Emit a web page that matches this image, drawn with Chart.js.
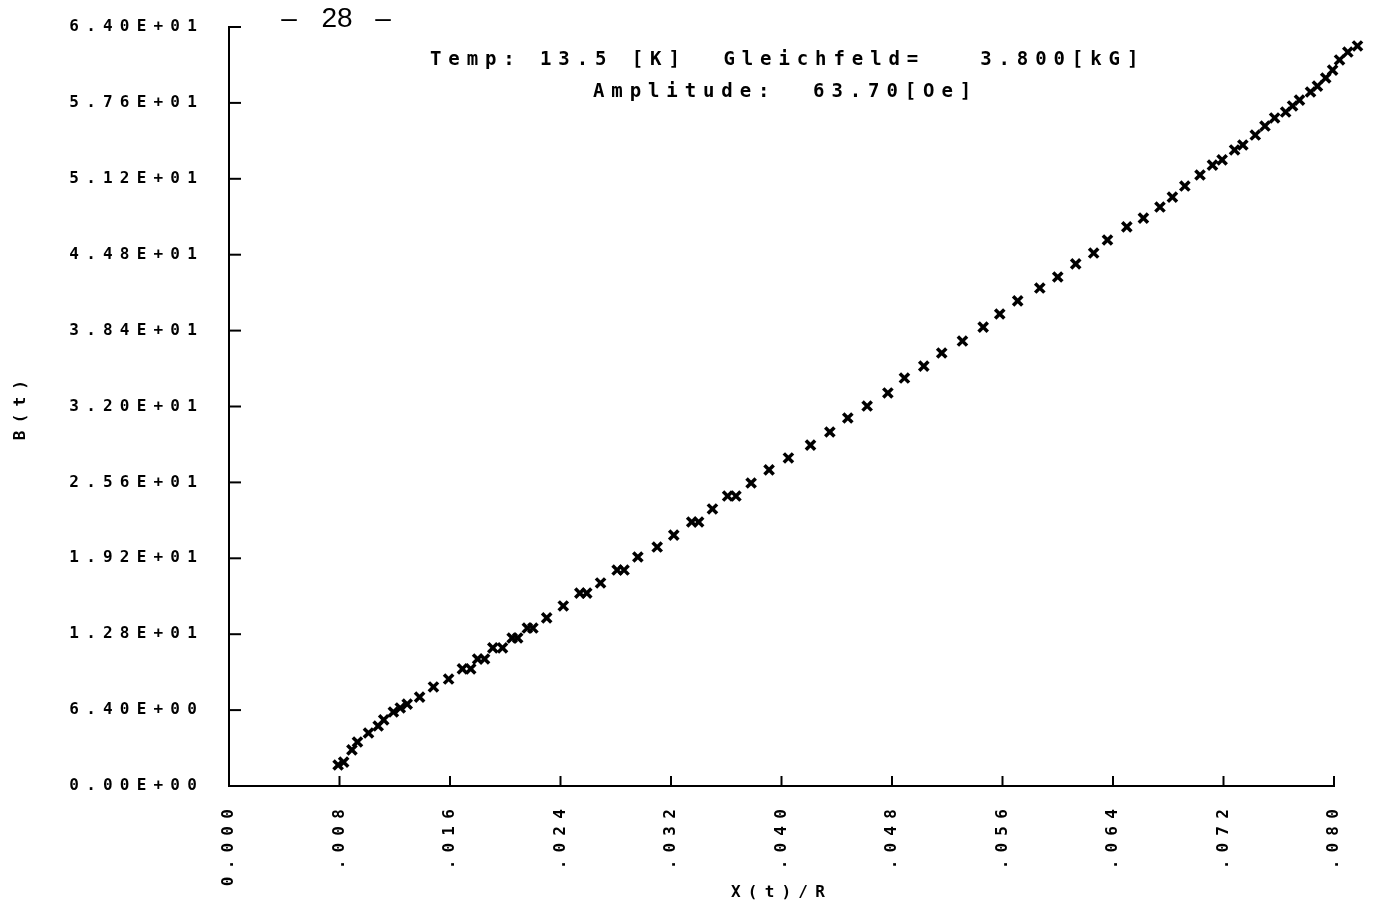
<!DOCTYPE html>
<html>
<head>
<meta charset="utf-8">
<script src="https://cdn.jsdelivr.net/npm/chart.js@4.4.1/dist/chart.umd.min.js"></script>
<style>
  html, body { margin: 0; padding: 0; background: #fff; }
  #wrap { width: 1380px; height: 910px; }
</style>
</head>
<body>
<div id="wrap"><canvas id="plot" width="1380" height="910"></canvas></div>
<script>
// X(t)/R and B(t) samples over one field cycle
const xPos = [
  0.0079, 0.0083, 0.0089, 0.0093, 0.0101, 0.0108, 0.0112, 0.0119, 0.0124, 0.0129,
  0.0138, 0.0148, 0.0159, 0.0169, 0.0175, 0.0180, 0.0185, 0.0191, 0.0198, 0.0205,
  0.0209, 0.0216, 0.0220, 0.0230, 0.0242, 0.0254, 0.0259, 0.0269, 0.0281, 0.0286,
  0.0296, 0.0310, 0.0322, 0.0335, 0.0340, 0.0350, 0.0361, 0.0367, 0.0378, 0.0391,
  0.0405, 0.0421, 0.0435, 0.0448, 0.0462, 0.0477, 0.0489, 0.0503, 0.0516, 0.0531,
  0.0546, 0.0558, 0.0571, 0.0587, 0.0600, 0.0613, 0.0626, 0.0636, 0.0650, 0.0662,
  0.0674, 0.0683, 0.0692, 0.0703, 0.0712, 0.0719, 0.0728, 0.0734, 0.0743, 0.0750,
  0.0757, 0.0765, 0.0770, 0.0775, 0.0783, 0.0788, 0.0794, 0.0799, 0.0804, 0.0810,
  0.0817
];
const bField = [
  1.77, 2.02, 3.04, 3.71, 4.47, 5.06, 5.57, 6.24, 6.58, 6.91,
  7.50, 8.35, 9.02, 9.87, 9.87, 10.71, 10.71, 11.64, 11.64, 12.48,
  12.48, 13.32, 13.32, 14.17, 15.18, 16.27, 16.27, 17.12, 18.21, 18.21,
  19.31, 20.15, 21.16, 22.26, 22.26, 23.36, 24.45, 24.45, 25.55, 26.65,
  27.66, 28.75, 29.85, 31.03, 32.04, 33.14, 34.40, 35.41, 36.51, 37.52,
  38.70, 39.80, 40.90, 41.99, 42.92, 44.02, 44.94, 46.04, 47.14, 47.89,
  48.82, 49.66, 50.59, 51.52, 52.36, 52.79, 53.63, 54.05, 54.89, 55.65,
  56.33, 56.83, 57.34, 57.84, 58.52, 59.02, 59.70, 60.37, 61.22, 61.89,
  62.40
];

const xTickValues = [0, 0.008, 0.016, 0.024, 0.032, 0.040, 0.048, 0.056, 0.064, 0.072, 0.080];
const xTickLabels = ["0.000", ".008", ".016", ".024", ".032", ".040", ".048", ".056", ".064", ".072", ".080"];
const yTickValues = [0, 6.4, 12.8, 19.2, 25.6, 32, 38.4, 44.8, 51.2, 57.6, 64];
const yTickLabels = ["0.00E+00", "6.40E+00", "1.28E+01", "1.92E+01", "2.56E+01", "3.20E+01",
                     "3.84E+01", "4.48E+01", "5.12E+01", "5.76E+01", "6.40E+01"];

const headerLines = ["Temp: 13.5 [K]  Gleichfeld=   3.800[kG]", "Amplitude:  63.70[Oe]"];
const pageNumber = "28";

const MONO = "'DejaVu Sans Mono', monospace";
Chart.defaults.font.family = MONO;
Chart.defaults.color = "#000";

const axisFont = { size: 16, weight: "bold" };

// plotter look: wide letter pitch, inward ticks, run header
const plotterStyle = {
  id: "plotterStyle",
  beforeDraw(chart) {
    chart.ctx.letterSpacing = "7.2px";
  },
  // points run a little past the .080 end of the axis, so let them draw there
  beforeDatasetsDraw(chart) {
    this.savedRight = chart.chartArea.right;
    chart.chartArea.right += 40;
  },
  afterDatasetsDraw(chart) {
    chart.chartArea.right = this.savedRight;
  },
  afterDraw(chart) {
    const { ctx, scales: { x, y } } = chart;
    ctx.save();
    ctx.strokeStyle = "#000";
    ctx.lineWidth = 2;
    x.ticks.forEach((t, i) => {
      const px = x.getPixelForTick(i);
      ctx.beginPath();
      ctx.moveTo(px, x.top);
      ctx.lineTo(px, x.top - 10);
      ctx.stroke();
    });
    y.ticks.forEach((t, i) => {
      const py = y.getPixelForTick(i);
      ctx.beginPath();
      ctx.moveTo(y.right, py);
      ctx.lineTo(y.right + 12, py);
      ctx.stroke();
    });

    ctx.fillStyle = "#000";
    ctx.textBaseline = "middle";
    ctx.textAlign = "left";
    ctx.letterSpacing = "6.9px";
    ctx.font = "bold 19px " + MONO;
    ctx.fillText(headerLines[0], 430, 60);
    ctx.fillText(headerLines[1], 593, 92);

    ctx.letterSpacing = "0px";
    ctx.textAlign = "center";
    ctx.font = "28px 'Liberation Sans', Arial, sans-serif";
    ctx.fillText("\u2013", 289, 19);
    ctx.fillText(pageNumber, 337, 19);
    ctx.fillText("\u2013", 383, 19);
    ctx.restore();
  }
};

new Chart(document.getElementById("plot"), {
  type: "scatter",
  data: {
    datasets: [{
      data: xPos.map((v, i) => ({ x: v, y: bField[i] })),
      pointStyle: "crossRot",
      pointRadius: 6.5,
      pointBorderWidth: 3.5,
      borderColor: "#000",
      backgroundColor: "#000",
      showLine: false,
      clip: false
    }]
  },
  options: {
    responsive: false,
    animation: false,
    devicePixelRatio: 1,
    layout: { padding: { left: 0, top: 27, right: 46, bottom: 0 } },
    plugins: {
      legend: { display: false },
      tooltip: { enabled: false }
    },
    scales: {
      x: {
        type: "linear",
        // bounds set here rather than min/max so the last points past .080 are kept
        afterDataLimits(s) { s.min = 0; s.max = 0.08; },
        afterFit(s) {
          s.height = 124;
          s.paddingLeft = 0;
          s.paddingRight = 0;
        },
        afterBuildTicks(s) { s.ticks = xTickValues.map(v => ({ value: v })); },
        grid: { display: false, drawTicks: false },
        border: { display: true, color: "#000", width: 2 },
        ticks: {
          autoSkip: false,
          minRotation: 90,
          maxRotation: 90,
          padding: 16,
          font: axisFont,
          callback: (v, i) => xTickLabels[i]
        },
        title: {
          display: true,
          text: "X(t)/R",
          font: axisFont,
          padding: { top: 0, bottom: 8 }
        }
      },
      y: {
        type: "linear",
        min: 0,
        max: 64,
        afterFit(s) {
          s.width = 229;
          s.paddingTop = 0;
          s.paddingBottom = 0;
        },
        afterBuildTicks(s) { s.ticks = yTickValues.map(v => ({ value: v })); },
        grid: { display: false, drawTicks: false },
        border: { display: true, color: "#000", width: 2 },
        ticks: {
          padding: 25,
          font: axisFont,
          callback: (v, i) => yTickLabels[i]
        },
        title: {
          display: true,
          text: "B(t)",
          font: axisFont,
          padding: { top: 11, bottom: 0 }
        }
      }
    }
  },
  plugins: [plotterStyle]
});
</script>
</body>
</html>
